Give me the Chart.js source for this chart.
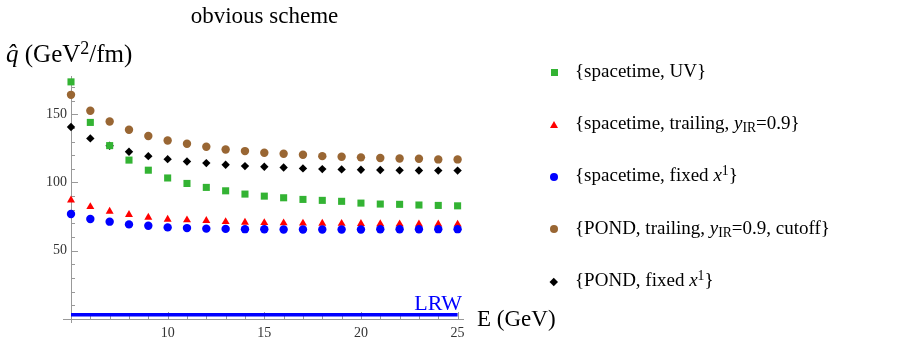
<!DOCTYPE html>
<html>
<head>
<meta charset="utf-8">
<script src="https://cdn.jsdelivr.net/npm/chart.js@4.4.1/dist/chart.umd.min.js"></script>
<style>
  body { margin: 0; background: #fff; }
  #wrap { position: relative; width: 900px; height: 350px; font-family: "Liberation Serif", "Times New Roman", serif; color: #000; }
  #grafico { position: absolute; left: 0; top: 0; }
  .txt { position: absolute; white-space: nowrap; line-height: 1; }
  .txt sup, .txt sub { font-size: 72%; line-height: 0; }
  .txt sup { vertical-align: 0.45em; }
  .txt sub { vertical-align: -0.25em; }
  .mk { position: absolute; }
</style>
</head>
<body>
<div id="wrap">
  <canvas id="grafico" width="900" height="350"></canvas>
  <div class="txt" id="titulo" style="font-size:23px; left:264.5px; top:3.7px; transform:translateX(-50%);">obvious scheme</div>
  <div class="txt" style="font-size:25px; left:6px; top:40.8px;"><i>q&#x0302;</i> (GeV<sup>2</sup>/fm)</div>
  <div class="txt" style="font-size:23px; left:477px; top:307.4px;">E (GeV)</div>
  <div class="txt" style="font-size:22px; right:438px; top:292.3px; color:#0000ff;">LRW</div>
  <div id="leyenda"></div>
</div>
<script>
// energias (GeV)
const energias = [5, 6, 7, 8, 9, 10, 11, 12, 13, 14, 15, 16, 17, 18, 19, 20, 21, 22, 23, 24, 25];

// q-hat (GeV^2/fm)
const spacetimeUV = [173.7, 144, 127, 116.4, 109, 103.3, 99.3, 96.4, 93.9, 91.5, 90, 88.8, 87.6, 86.9, 86.2, 84.9, 84.2, 84, 83.5, 83.2, 82.9];
const spacetimeTrailing = [87.1, 82.2, 78.8, 76.4, 74.4, 73, 72.5, 72, 71.2, 70.8, 70.5, 70.3, 70.1, 70, 69.9, 69.8, 69.7, 69.6, 69.5, 69.5, 69.4];
const spacetimeFixed = [76.9, 73.2, 71.3, 69.3, 68.3, 67.1, 66.6, 66.2, 66, 65.8, 65.7, 65.6, 65.6, 65.6, 65.6, 65.6, 65.7, 65.7, 65.7, 65.8, 65.8];
const pondTrailing = [164.2, 152.5, 144.7, 138.6, 134, 130.8, 128.4, 126.2, 124.2, 123, 121.8, 121, 120.3, 119.3, 118.8, 118.4, 117.9, 117.6, 117.4, 116.9, 116.9];
const pondFixed = [140.6, 132.3, 126.9, 122.5, 119.3, 117.1, 115.4, 114.2, 113, 112, 111.5, 111, 110.3, 109.8, 109.6, 109.3, 109.1, 108.9, 108.8, 108.7, 108.7];

// linea LRW
const lrwEnergias = [5, 25];
const lrwValores = [3.2, 3.2];

// nombres de las series (texto plano y con formato para la leyenda)
const nombres = ["{spacetime, UV}", "{spacetime, trailing, yIR=0.9}", "{spacetime, fixed x1}", "{POND, trailing, yIR=0.9, cutoff}", "{POND, fixed x1}"];
const nombresHtml = [
    "{spacetime, UV}",
    "{spacetime, trailing, <i>y</i><sub>IR</sub>=0.9}",
    "{spacetime, fixed <i>x</i><sup>1</sup>}",
    "{POND, trailing, <i>y</i><sub>IR</sub>=0.9, cutoff}",
    "{POND, fixed <i>x</i><sup>1</sup>}"
];

const ticksY = [50, 100, 150];
const ticksX = [10, 15, 20, 25];

const puntos = (valores) => valores.map((v, i) => ({ x: energias[i], y: v }));

const series = [
    { label: nombres[0], data: puntos(spacetimeUV), pointStyle: "rect", pointRadius: 5, color: "#33b333", order: 1 },
    { label: nombres[1], data: puntos(spacetimeTrailing), pointStyle: "triangle", pointRadius: 4.6, color: "#ff0000", order: 3 },
    { label: nombres[2], data: puntos(spacetimeFixed), pointStyle: "circle", pointRadius: 4.2, color: "#0000ff", order: 2 },
    { label: nombres[3], data: puntos(pondTrailing), pointStyle: "circle", pointRadius: 4.2, color: "#996633", order: 4 },
    { label: nombres[4], data: puntos(pondFixed), pointStyle: "rectRot", pointRadius: 4.2, color: "#000000", order: 5 }
];

const datasets = series.map(s => ({
    label: s.label,
    data: s.data,
    showLine: false,
    pointStyle: s.pointStyle,
    pointRadius: s.pointRadius,
    pointHoverRadius: s.pointRadius,
    pointBackgroundColor: s.color,
    pointBorderWidth: 0,
    borderColor: s.color,
    backgroundColor: s.color,
    order: s.order,
    clip: false
}));

datasets.push({
    label: "LRW",
    data: lrwEnergias.map((e, i) => ({ x: e, y: lrwValores[i] })),
    showLine: true,
    borderColor: "#0000ff",
    borderWidth: 3.5,
    pointRadius: 0,
    order: 6,
    clip: false
});

// ticks hacia dentro, como en el original
const ticksDentro = {
    id: "ticksDentro",
    beforeDatasetsDraw(chart) {
        const { ctx, chartArea, scales: { x, y } } = chart;
        ctx.save();
        ctx.strokeStyle = "#999";
        ctx.lineWidth = 1;
        ctx.beginPath();
        y.ticks.forEach(t => {
            if (t.value <= 0) return;
            const py = Math.round(y.getPixelForValue(t.value)) + 0.5;
            const len = ticksY.includes(t.value) ? 7 : 4;
            ctx.moveTo(chartArea.left, py);
            ctx.lineTo(chartArea.left + len, py);
        });
        x.ticks.forEach(t => {
            if (t.value <= 5 || t.value % 1 !== 0) return;
            const px = Math.round(x.getPixelForValue(t.value)) + 0.5;
            const len = ticksX.includes(t.value) ? 7 : 4;
            ctx.moveTo(px, chartArea.bottom);
            ctx.lineTo(px, chartArea.bottom - len);
        });
        const by = Math.round(chartArea.bottom) + 0.5;
        ctx.moveTo(chartArea.left - 8, by);
        ctx.lineTo(chartArea.left, by);
        ctx.moveTo(chartArea.left + 0.5, chartArea.bottom);
        ctx.lineTo(chartArea.left + 0.5, chartArea.bottom + 4);
        ctx.stroke();
        ctx.restore();
    }
};

const ctx = document.getElementById("grafico").getContext("2d");
const chart = new Chart(ctx, {
    type: "scatter",
    data: { datasets: datasets },
    options: {
        responsive: false,
        animation: false,
        layout: { padding: { left: 41, right: 436.6, top: 76, bottom: 6 } },
        plugins: {
            legend: { display: false },
            title: { display: false },
            tooltip: { enabled: false }
        },
        scales: {
            x: {
                type: "linear",
                min: 5,
                max: 25.3,
                grid: { display: false, drawTicks: false },
                border: { color: "#999", width: 1 },
                ticks: {
                    stepSize: 1,
                    autoSkip: false,
                    maxRotation: 0,
                    includeBounds: false,
                    padding: 6,
                    color: "#333",
                    font: { family: "Liberation Serif", size: 14 },
                    callback: (v) => ticksX.includes(v) ? v : ""
                },
                afterFit: (scale) => { scale.height = 25; }
            },
            y: {
                min: 0,
                max: 178,
                grid: { display: false, drawTicks: false },
                border: { color: "#999", width: 1 },
                ticks: {
                    stepSize: 10,
                    autoSkip: false,
                    includeBounds: false,
                    padding: 4,
                    color: "#333",
                    font: { family: "Liberation Serif", size: 14 },
                    callback: (v) => ticksY.includes(v) ? v : ""
                },
                afterFit: (scale) => { scale.width = 30; }
            }
        }
    },
    plugins: [ticksDentro]
});

// leyenda en HTML construida desde los datasets del grafico
const leyenda = document.getElementById("leyenda");
const formas = {
    rect: (c) => `width:7px;height:7px;background:${c};margin:-3.5px 0 0 -3.5px;`,
    triangle: (c) => `width:0;height:0;border-left:4px solid transparent;border-right:4px solid transparent;border-bottom:7px solid ${c};margin:-4px 0 0 -4px;`,
    circle: (c) => `width:8px;height:8px;border-radius:50%;background:${c};margin:-4px 0 0 -4px;`,
    rectRot: (c) => `width:5.5px;height:5.5px;background:${c};margin:-2.75px 0 0 -2.75px;transform:rotate(45deg);`
};
chart.data.datasets.forEach((ds, i) => {
    if (i >= nombresHtml.length) return;
    const yc = 72.7 + 52.25 * i;
    const mk = document.createElement("div");
    mk.className = "mk";
    mk.style.cssText = `left:554px;top:${yc}px;` + formas[ds.pointStyle](ds.pointBackgroundColor);
    leyenda.appendChild(mk);
    const t = document.createElement("div");
    t.className = "txt";
    t.style.cssText = `font-size:19px;left:575px;top:${yc + 4 - 15.9}px;`;
    t.innerHTML = nombresHtml[i];
    leyenda.appendChild(t);
});
</script>
</body>
</html>
